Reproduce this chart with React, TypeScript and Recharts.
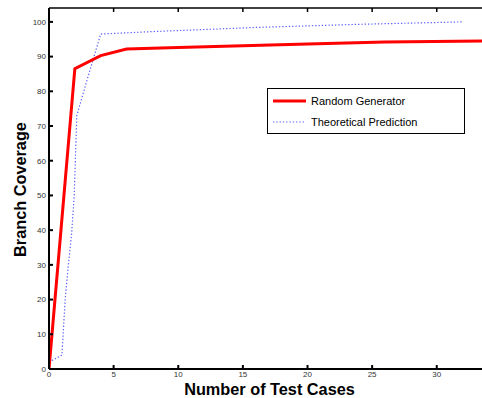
import { LineChart, Line, XAxis, YAxis, Legend } from "recharts";

// Random generator measurements
const randomX = [0, 2, 4, 6, 10, 15, 20, 26, 33.5];
const randomY = [0, 86.5, 90.3, 92.2, 92.6, 93.1, 93.6, 94.2, 94.5];

// Theoretical prediction curve
const theoryX = [0, 1, 1.25, 1.5, 1.75, 1.95, 2.15, 3, 4, 8, 16, 24, 32];
const theoryY = [2, 4, 20, 30, 39, 50, 73, 84, 96.5, 97.2, 98.4, 99.3, 100];

const xTicks = [0, 5, 10, 15, 20, 25, 30];
const yTicks = [0, 10, 20, 30, 40, 50, 60, 70, 80, 90, 100];

const randomData = randomX.map((x, i) => ({ x, y: randomY[i] }));
const theoryData = theoryX.map((x, i) => ({ x, y: theoryY[i] }));

const font = "'Liberation Sans', Arial, sans-serif";

const tickStyle = { fill: "#333", fontSize: 8, fontFamily: font };
const titleStyle = { fontFamily: font, fontSize: 16.3, fontWeight: "bold", fill: "#000", textAnchor: "middle" };

function LegendBox() {
  return (
    <div
      style={{
        width: 198,
        height: 46,
        border: "1px solid #000",
        background: "#fff",
        fontFamily: font,
        fontSize: 11,
        color: "#000",
        boxSizing: "border-box",
        padding: "3px 0 0 5px",
      }}
    >
      <div style={{ display: "flex", alignItems: "center", height: 18 }}>
        <svg width={34} height={6}>
          <line x1={0} y1={3} x2={33} y2={3} stroke="#ff0000" strokeWidth={3} />
        </svg>
        <span style={{ marginLeft: 4 }}>Random Generator</span>
      </div>
      <div style={{ display: "flex", alignItems: "center", height: 18, marginTop: 3 }}>
        <svg width={34} height={6}>
          <line x1={0} y1={3} x2={33} y2={3} stroke="#5c5cff" strokeWidth={1.2} strokeDasharray="1.3 2" />
        </svg>
        <span style={{ marginLeft: 4 }}>Theoretical Prediction</span>
      </div>
    </div>
  );
}

export default function App() {
  return (
    <div style={{ position: "absolute", left: 0, top: 0, background: "#fff" }}>
      <LineChart width={482} height={398} margin={{ top: 7, right: 0, bottom: 0, left: 0 }}>
        <XAxis
          xAxisId="bottom"
          dataKey="x"
          type="number"
          domain={[0, 33.5]}
          ticks={xTicks}
          allowDataOverflow
          height={29}
          stroke="#000"
          strokeWidth={2}
          tickSize={-4}
          tickMargin={6}
          tick={tickStyle}
          label={{
            value: "Number of Test Cases",
            position: "center",
            dx: 4,
            dy: 6,
            style: titleStyle,
          }}
        />
        <XAxis
          xAxisId="top"
          orientation="top"
          dataKey="x"
          type="number"
          domain={[0, 33.5]}
          ticks={xTicks}
          allowDataOverflow
          height={1}
          stroke="#000"
          strokeWidth={1.5}
          tickSize={-4}
          tickFormatter={() => ""}
        />
        <YAxis
          type="number"
          domain={[0, 104]}
          ticks={yTicks}
          allowDataOverflow
          width={49}
          stroke="#000"
          strokeWidth={2}
          tickSize={-4}
          tickMargin={7}
          tick={tickStyle}
          label={{
            value: "Branch Coverage",
            angle: -90,
            position: "center",
            dx: -4,
            dy: 1,
            style: titleStyle,
          }}
        />
        <Legend
          verticalAlign="middle"
          align="center"
          layout="horizontal"
          content={() => <LegendBox />}
          wrapperStyle={{ position: "absolute", left: 267, top: 88, width: 198 }}
        />
        <Line
          xAxisId="top"
          data={theoryData}
          dataKey="y"
          stroke="none"
          dot={false}
          isAnimationActive={false}
          legendType="none"
        />
        <Line
          xAxisId="bottom"
          data={theoryData}
          dataKey="y"
          stroke="#5c5cff"
          strokeWidth={1.2}
          strokeDasharray="1.3 2"
          dot={false}
          isAnimationActive={false}
          legendType="none"
        />
        <Line
          xAxisId="bottom"
          data={randomData}
          dataKey="y"
          stroke="#ff0000"
          strokeWidth={3}
          strokeLinejoin="miter"
          dot={false}
          isAnimationActive={false}
          legendType="none"
        />
      </LineChart>
    </div>
  );
}
